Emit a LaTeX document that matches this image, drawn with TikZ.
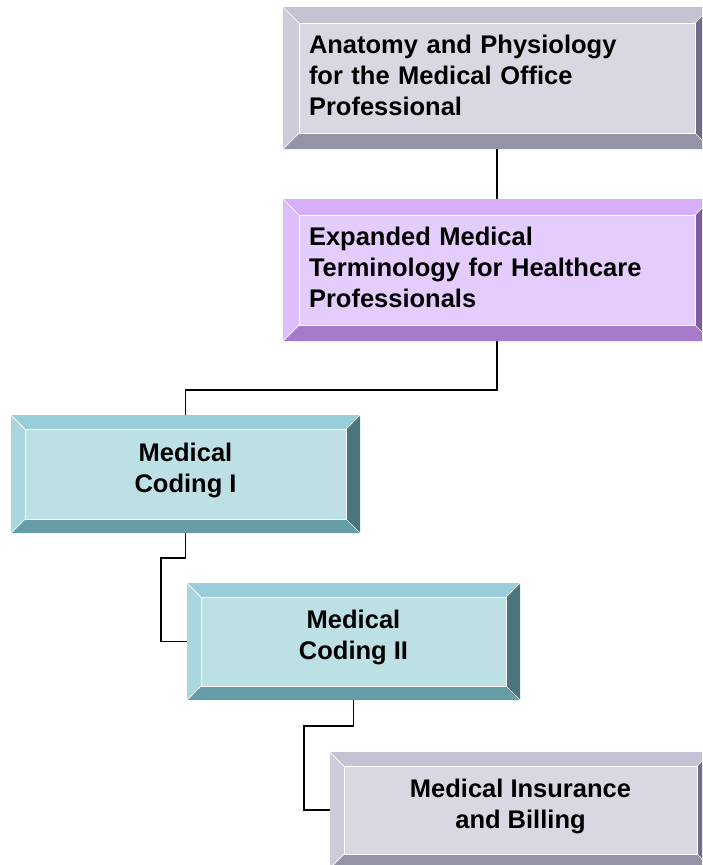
\documentclass[tikz,border=0pt]{standalone}
\usepackage{fontspec}
\setmainfont{Liberation Sans}
\usetikzlibrary{calc}
\definecolor{gF}{HTML}{D8D8E2}
\definecolor{gT}{HTML}{C3C3D3}
\definecolor{gL}{HTML}{CDCDDA}
\definecolor{gB}{HTML}{9494A7}
\definecolor{gR}{HTML}{6E6E88}
\definecolor{pF}{HTML}{E4CCFC}
\definecolor{pT}{HTML}{D7AEF9}
\definecolor{pL}{HTML}{DEBEFA}
\definecolor{pB}{HTML}{A57BCA}
\definecolor{pR}{HTML}{7D5E9B}
\definecolor{tF}{HTML}{BDE0E5}
\definecolor{tT}{HTML}{97CEDA}
\definecolor{tL}{HTML}{AAD7DF}
\definecolor{tB}{HTML}{659CA6}
\definecolor{tR}{HTML}{4A757C}
\def\bvw{15pt}
\tikzset{
  bw/.code={\def\bvw{#1}},
  bevel/.style={fill=#1F, inner sep=0pt, outer sep=0pt, anchor=north west,
    font=\bfseries\fontsize{25.5}{30.7}\selectfont,
    path picture={
      \path (path picture bounding box.south west) coordinate (SW)
            (path picture bounding box.north east) coordinate (NE);
      \fill[#1T] (SW|-NE) -- (NE) -- ($(NE)+(-\bvw,-\bvw)$) -- ($(SW|-NE)+(\bvw,-\bvw)$) -- cycle;
      \fill[#1B] (SW) -- (SW-|NE) -- ($(SW-|NE)+(-\bvw,\bvw)$) -- ($(SW)+(\bvw,\bvw)$) -- cycle;
      \fill[#1L] (SW) -- (SW|-NE) -- ($(SW|-NE)+(\bvw,-\bvw)$) -- ($(SW)+(\bvw,\bvw)$) -- cycle;
      \fill[#1R] (SW-|NE) -- (NE) -- ($(NE)+(-\bvw,-\bvw)$) -- ($(SW-|NE)+(-\bvw,\bvw)$) -- cycle;
      \draw[white, line width=1pt] ($(SW)+(\bvw,\bvw)$) rectangle ($(NE)+(-\bvw,-\bvw)$);
      \draw[white, line width=0.7pt] (SW) -- ($(SW)+(\bvw,\bvw)$)
        (SW|-NE) -- ($(SW|-NE)+(\bvw,-\bvw)$)
        (NE) -- ($(NE)+(-\bvw,-\bvw)$)
        (SW-|NE) -- ($(SW-|NE)+(-\bvw,\bvw)$);
    }},
  leftbox/.style={bevel=#1, inner xsep=26pt, text width=376pt, align=left, minimum height=142pt, text depth=67pt},
  midbox/.style={bevel=#1, bw=14pt, align=center, text depth=13pt},
  conn/.style={draw=black, line width=1.4pt}
}
\begin{document}
\begin{tikzpicture}[x=1pt, y=-1pt]
\useasboundingbox (0,0) rectangle (702,865);
\clip (0,0) rectangle (702,865);
\node[leftbox=g, bw=16pt] (a) at (283,7) {Anatomy and Physiology\\for the Medical Office\\Professional};
\node[leftbox=p, bw=16pt] (b) at (283,199) {Expanded Medical\\Terminology for Healthcare\\Professionals};
\node[midbox=t, minimum width=349pt, minimum height=118pt] (c) at (11,415) {Medical\\Coding I};
\node[midbox=t, minimum width=333pt, minimum height=117pt] (d) at (187,583) {Medical\\Coding II};
\node[midbox=g, minimum width=381pt, minimum height=116pt] (e) at (330,752) {Medical Insurance\\and Billing};
\draw[conn] (a.south) -- (b.north);
\draw[conn] (b.south) -- ++(0pt,-49pt) -| (c.north);
\draw[conn] (c.south) -- ++(0pt,-25pt) -| ($(d.west)+(-26pt,0pt)$) -- (d.west);
\draw[conn] (d.south) -- ++(0pt,-26pt) -| ($(e.west)+(-26pt,0pt)$) -- (e.west);
\end{tikzpicture}
\end{document}
